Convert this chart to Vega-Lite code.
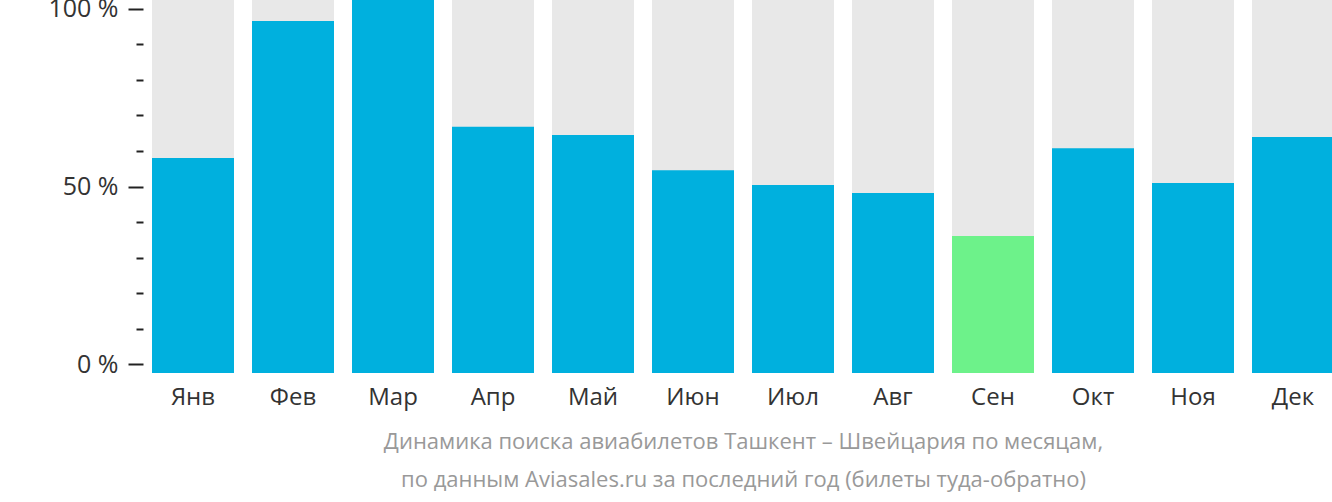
{
  "$schema": "https://vega.github.io/schema/vega-lite/v6.json",
  "autosize": {"type": "none"},
  "padding": {"left": 143, "top": 0, "right": 0, "bottom": 129},
  "width": 1189,
  "height": 373,
  "background": "white",
  "config": {"view": {"stroke": null}, "font": "Open Sans"},
  "data": {"values": [
    {"month": "Янв", "value": 58.0, "kind": "normal"},
    {"month": "Фев", "value": 96.6, "kind": "normal"},
    {"month": "Мар", "value": 102.5, "kind": "normal"},
    {"month": "Апр", "value": 66.8, "kind": "normal"},
    {"month": "Май", "value": 64.5, "kind": "normal"},
    {"month": "Июн", "value": 54.6, "kind": "normal"},
    {"month": "Июл", "value": 50.4, "kind": "normal"},
    {"month": "Авг", "value": 48.2, "kind": "normal"},
    {"month": "Сен", "value": 36.1, "kind": "min"},
    {"month": "Окт", "value": 60.8, "kind": "normal"},
    {"month": "Ноя", "value": 51.0, "kind": "normal"},
    {"month": "Дек", "value": 63.9, "kind": "normal"}
  ]},
  "encoding": {
    "x": {
      "field": "month", "type": "nominal", "sort": null,
      "scale": {"range": [0, 1200], "paddingInner": 0.18, "paddingOuter": 0.09},
      "axis": {
        "domain": false, "ticks": false, "labelAngle": 0,
        "labelFontSize": 24, "labelColor": "#333333", "labelPadding": 12,
        "title": ["Динамика поиска авиабилетов Ташкент – Швейцария по месяцам,", "по данным Aviasales.ru за последний год (билеты туда-обратно)"],
        "titleFontSize": 22, "titleFontWeight": "normal", "titleColor": "#999999",
        "titleLineHeight": 38, "titlePadding": 22
      }
    }
  },
  "layer": [
    {
      "mark": {"type": "bar", "color": "#e8e8e8"},
      "encoding": {
        "y": {"datum": 102.5, "type": "quantitative",
          "scale": {"domain": [-2.5, 102.5], "nice": false, "zero": false},
          "axis": {
            "values": [0, 10, 20, 30, 40, 50, 60, 70, 80, 90, 100],
            "domain": false, "grid": false, "labelOverlap": false,
            "labelExpr": "datum.value % 50 === 0 ? datum.value + ' %' : ''",
            "tickSize": {"condition": {"test": "datum.value % 50 === 0", "value": 15}, "value": 7},
            "tickWidth": 2, "tickColor": "#222222",
            "labelFontSize": 25, "labelColor": "#333333", "labelPadding": 10,
            "title": null
          }
        },
        "y2": {"datum": -2.5}
      }
    },
    {
      "mark": {"type": "bar"},
      "encoding": {
        "y": {"field": "value", "type": "quantitative",
          "axis": {
            "values": [0, 10, 20, 30, 40, 50, 60, 70, 80, 90, 100],
            "domain": false, "grid": false, "labelOverlap": false,
            "labelExpr": "datum.value % 50 === 0 ? datum.value + ' %' : ''",
            "tickSize": {"condition": {"test": "datum.value % 50 === 0", "value": 15}, "value": 7},
            "tickWidth": 2, "tickColor": "#222222",
            "labelFontSize": 25, "labelColor": "#333333", "labelPadding": 10,
            "title": null
          }
        },
        "y2": {"datum": -2.5},
        "color": {"field": "kind", "type": "nominal",
          "scale": {"domain": ["normal", "min"], "range": ["#00b0de", "#6df28a"]},
          "legend": null}
      }
    }
  ]
}
